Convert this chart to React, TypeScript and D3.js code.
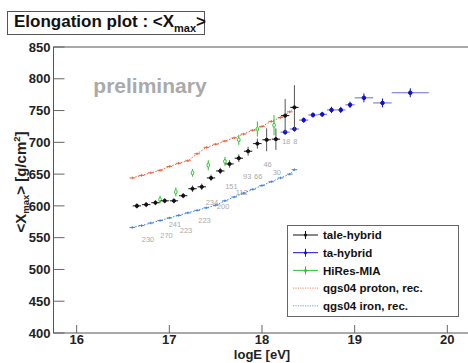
import React from 'react';
import * as d3 from 'd3';

const W = 468;
const H = 363;
const xTicks = [16, 17, 18, 19, 20];
const yTicks = [400, 450, 500, 550, 600, 650, 700, 750, 800, 850];

// tale-hybrid
const taleE = [16.65, 16.75, 16.85, 16.95, 17.05, 17.15, 17.25, 17.35, 17.45, 17.55, 17.65, 17.75, 17.85, 17.95, 18.05, 18.15, 18.25, 18.35];
const taleX = [600, 602, 605, 608, 608, 616, 627, 630, 644, 655, 666, 675, 686, 698, 704, 705, 742, 755];
const taleErr = [4, 4, 4, 4, 4, 4, 5, 5, 5, 5, 6, 6, 7, 8, 18, 17, 26, 35];

// ta-hybrid
const taE = [18.25, 18.35, 18.45, 18.55, 18.65, 18.75, 18.85, 18.95, 19.1, 19.3, 19.6];
const taX = [716, 721, 735, 743, 744, 751, 751, 759, 770, 762, 778];
const taErrX = [4, 4, 4, 4, 4, 5, 5, 5, 7, 7, 7];
const taErrE = [0.05, 0.05, 0.05, 0.05, 0.05, 0.05, 0.05, 0.05, 0.1, 0.1, 0.2];

// HiRes-MIA
const hiresE = [16.9, 17.07, 17.25, 17.42, 17.6, 17.75, 17.95, 18.13];
const hiresX = [610, 622, 652, 664, 670, 704, 721, 727];
const hiresErr = [6, 7, 6, 8, 7, 8, 12, 16];

// qgs04 proton / iron, rec.
const mcE = [16.6, 16.7, 16.8, 16.9, 17.0, 17.1, 17.2, 17.3, 17.4, 17.5, 17.6, 17.7, 17.8, 17.9, 18.0, 18.1, 18.2, 18.3, 18.35];
const protonX = [644, 648, 652, 656, 662, 667, 671, 682, 692, 697, 702, 707, 713, 719, 725, 733, 739, 748, 755];
const ironX = [566, 569, 573, 577, 581, 585, 589, 593, 597, 601, 608, 614, 620, 626, 632, 638, 644, 650, 657];

// event counts printed on the plot
const countText = ['230', '270', '241', '223', '223', '234', '200', '151', '112', '93', '66', '46', '30', '18', '8'];
const countE = [16.77, 16.97, 17.06, 17.18, 17.38, 17.46, 17.58, 17.67, 17.78, 17.84, 17.96, 18.06, 18.16, 18.26, 18.36];
const countX = [548, 554, 571, 562, 577, 606, 599, 630, 621, 647, 647, 666, 653, 702, 702];

const legendLabels = ['tale-hybrid', 'ta-hybrid', 'HiRes-MIA', 'qgs04 proton, rec.', 'qgs04 iron, rec.'];

const BLACK = '#111';
const BLUE = '#1010c8';
const GREEN = '#2ec42e';
const RED = '#e8643c';
const IRON = '#4a84d8';

export default function App() {
  const x = d3.scaleLinear().domain([15.75, 20.25]).range([53.5, 470.5]);
  const y = d3.scaleLinear().domain([400, 850]).range([333, 47]);
  const font = "'Liberation Sans', Arial, Helvetica, sans-serif";
  const line = d3.line<number>().x((_, i) => x(mcE[i])).y((d) => y(d));

  const x0 = x(15.75);
  const yb = y(400);
  const yt = y(850);

  return (
    <svg width={W} height={H} style={{ position: 'absolute', left: 0, top: 0, background: '#fff' }} fontFamily={font}>
      {/* frame */}
      <rect x={x0} y={yt} width={x(20.25) - x0} height={yb - yt} fill="none" stroke="#555" strokeWidth={1} />
      {yTicks.map((t) => (
        <g key={'y' + t}>
          <line x1={x0} x2={x0 + 11} y1={y(t)} y2={y(t)} stroke="#666" />
          <text x={x0 - 3} y={y(t)} dy="0.36em" textAnchor="end" fontSize={13} fontWeight="bold" fill="#222">{t}</text>
        </g>
      ))}
      {xTicks.map((t) => (
        <g key={'x' + t}>
          <line x1={x(t)} x2={x(t)} y1={yb} y2={yb - 8} stroke="#666" />
          <text x={x(t)} y={344} textAnchor="middle" fontSize={13} fontWeight="bold" fill="#222">{t}</text>
        </g>
      ))}
      <text x={262} y={358.5} textAnchor="middle" fontSize={13} fontWeight="bold" fill="#222">logE [eV]</text>
      <text transform="translate(26,182) rotate(-90)" textAnchor="middle" fontSize={15} fontWeight="bold" fill="#222">
        {'<X'}<tspan fontSize={9.5} dy={3}>max</tspan><tspan dy={-3}>{'> [g/cm'}</tspan><tspan fontSize={9.5} dy={-6}>2</tspan><tspan dy={6}>]</tspan>
      </text>

      {/* title box */}
      <rect x={7.5} y={11.5} width={197} height={23} fill="#fff" stroke="#555" />
      <text x={14} y={27} fontSize={17} fontWeight="bold" fill="#111">
        {'Elongation plot : <X'}<tspan fontSize={11} dy={5}>max</tspan><tspan dy={-5}>{'>'}</tspan>
      </text>

      <text x={x(16.18)} y={y(777)} fontSize={21} fontWeight="bold" fill="#aaa">preliminary</text>

      {/* event counts */}
      {countText.map((t, i) => (
        <text key={'c' + i} x={x(countE[i])} y={y(countX[i])} dy="0.35em" textAnchor="middle" fontSize={7.5} fill="#aaa">{t}</text>
      ))}

      {/* qgs04 iron */}
      <path d={line(ironX) || ''} fill="none" stroke={IRON} strokeWidth={1} strokeDasharray="1.5 1.5" />
      {ironX.map((v, i) => (
        <g key={'fe' + i} stroke={IRON} strokeWidth={1}>
          <line x1={x(mcE[i] - 0.03)} x2={x(mcE[i] + 0.03)} y1={y(v)} y2={y(v)} />
          <line x1={x(mcE[i])} x2={x(mcE[i])} y1={y(v - 2)} y2={y(v + 2)} />
        </g>
      ))}

      {/* qgs04 proton */}
      <path d={line(protonX) || ''} fill="none" stroke={RED} strokeWidth={1} strokeDasharray="1.5 1.5" />
      {protonX.map((v, i) => (
        <g key={'p' + i} stroke={RED} strokeWidth={1}>
          <line x1={x(mcE[i] - 0.03)} x2={x(mcE[i] + 0.03)} y1={y(v)} y2={y(v)} />
          <line x1={x(mcE[i])} x2={x(mcE[i])} y1={y(v - 2)} y2={y(v + 2)} />
        </g>
      ))}

      {/* HiRes-MIA */}
      {hiresX.map((v, i) => (
        <g key={'h' + i} stroke={GREEN} strokeWidth={1}>
          <line x1={x(hiresE[i])} x2={x(hiresE[i])} y1={y(v - hiresErr[i])} y2={y(v + hiresErr[i])} />
          <ellipse cx={x(hiresE[i])} cy={y(v)} rx={1.3} ry={2} fill="#fff" />
        </g>
      ))}

      {/* ta-hybrid */}
      {taX.map((v, i) => (
        <g key={'ta' + i} stroke={BLUE} strokeWidth={1}>
          <line x1={x(taE[i] - taErrE[i])} x2={x(taE[i] + taErrE[i])} y1={y(v)} y2={y(v)} stroke="#6a6ad8" />
          <line x1={x(taE[i])} x2={x(taE[i])} y1={y(v - taErrX[i])} y2={y(v + taErrX[i])} />
          <circle cx={x(taE[i])} cy={y(v)} r={1.8} fill={BLUE} />
        </g>
      ))}

      {/* tale-hybrid */}
      {taleX.map((v, i) => (
        <g key={'t' + i} stroke={BLACK} strokeWidth={1}>
          <line x1={x(taleE[i] - 0.045)} x2={x(taleE[i] + 0.045)} y1={y(v)} y2={y(v)} />
          <line x1={x(taleE[i])} x2={x(taleE[i])} y1={y(v - taleErr[i])} y2={y(v + taleErr[i])} stroke="#555" />
          <circle cx={x(taleE[i])} cy={y(v)} r={1.6} fill={BLACK} />
        </g>
      ))}

      {/* legend */}
      <rect x={287.5} y={225.5} width={171} height={91} fill="#fff" stroke="#666" />
      {legendLabels.map((lab, i) => {
        const ly = 235 + i * 17.7;
        const colors = [BLACK, BLUE, GREEN, RED, IRON];
        const dotted = i >= 3;
        return (
          <g key={'l' + i}>
            <line x1={293} x2={318} y1={ly} y2={ly} stroke={colors[i]} strokeWidth={1} strokeDasharray={dotted ? '1.2 1.2' : undefined} opacity={dotted ? 0.8 : 1} />
            {!dotted && <line x1={305.5} x2={305.5} y1={ly - 4} y2={ly + 4} stroke={colors[i]} />}
            {!dotted && <circle cx={305.5} cy={ly} r={1.5} fill={colors[i]} />}
            <text x={323} y={ly} dy="0.36em" fontSize={11.5} fontWeight="bold" fill="#111">{lab}</text>
          </g>
        );
      })}
    </svg>
  );
}
